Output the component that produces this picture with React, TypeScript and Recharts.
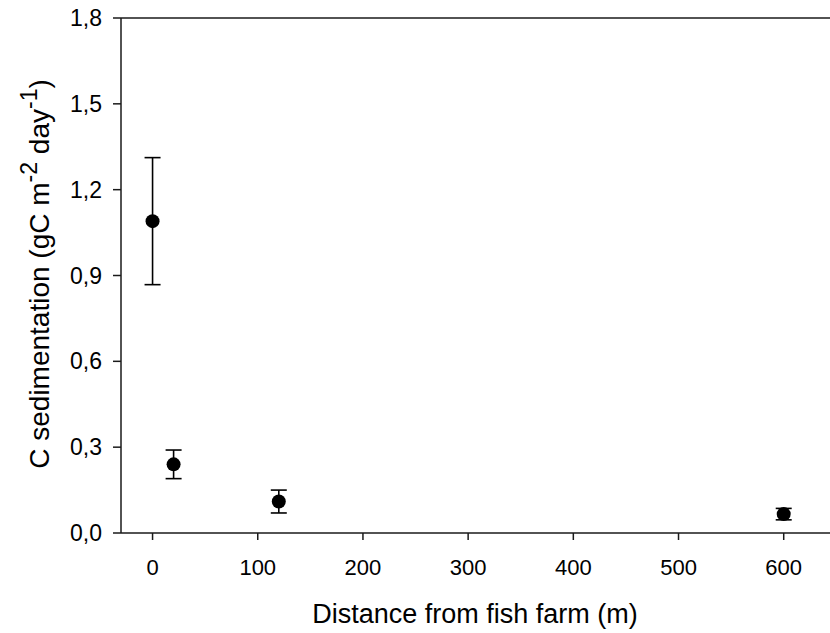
import React from "react"
import {
  ScatterChart,
  Scatter,
  XAxis,
  YAxis,
  ErrorBar,
  ReferenceLine,
  Label,
} from "recharts"

// distance from the farm (m) and C sedimentation (gC m-2 day-1), mean ± error
const distances = [0, 20, 120, 600]
const sedimentation = [1.09, 0.24, 0.11, 0.066]
const sedError = [0.222, 0.05, 0.04, 0.02]

const xTicks = [0, 100, 200, 300, 400, 500, 600]
const yTicks = [0, 0.3, 0.6, 0.9, 1.2, 1.5, 1.8]

const FONT = "'Liberation Sans', Arial, sans-serif"
const AXIS = "#1a1a1a"

const data = distances.map((d, i) => ({
  distance: d,
  value: sedimentation[i],
  err: sedError[i],
}))

const Dot = (props: any) => (
  <circle cx={props.cx} cy={props.cy} r={7} fill="#000" />
)

// rotated y title with superscripts; centred on the plot height
const YTitle = () => (
  <text
    transform="translate(49, 274) rotate(-90)"
    textAnchor="middle"
    fontFamily={FONT}
    fontSize={28}
    fill="#000"
  >
    <tspan>C sedimentation (gC m</tspan>
    <tspan fontSize={23} dy={-12}>-2</tspan>
    <tspan dy={12}> day</tspan>
    <tspan fontSize={23} dy={-12}>-1</tspan>
    <tspan dy={12}>)</tspan>
  </text>
)

const XTitle = () => (
  <text
    x={475}
    y={623}
    textAnchor="middle"
    fontFamily={FONT}
    fontSize={27}
    fill="#000"
  >
    Distance from fish farm (m)
  </text>
)

export default function App() {
  return (
    <div style={{ position: "absolute", left: 0, top: 0, width: 830, height: 633, background: "#fff" }}>
      <ScatterChart
        width={830}
        height={633}
        margin={{ top: 18, right: 0, bottom: 0, left: 0 }}
      >
        <XAxis
          type="number"
          dataKey="distance"
          domain={[-30, 644]}
          ticks={xTicks}
          allowDataOverflow
          height={100}
          tickSize={7}
          tickMargin={19}
          axisLine={{ stroke: AXIS, strokeWidth: 1.5 }}
          tickLine={{ stroke: AXIS, strokeWidth: 1.5 }}
          tick={{ fontSize: 22, fill: "#000", fontFamily: FONT }}
        >
          <Label content={<XTitle />} />
        </XAxis>
        <YAxis
          type="number"
          dataKey="value"
          domain={[0, 1.8]}
          ticks={yTicks}
          allowDataOverflow
          width={121}
          tickSize={8}
          tickMargin={11}
          tickFormatter={(v: number) => v.toFixed(1).replace(".", ",")}
          axisLine={{ stroke: AXIS, strokeWidth: 1.5 }}
          tickLine={{ stroke: AXIS, strokeWidth: 1.5 }}
          tick={{ fontSize: 23, fill: "#000", fontFamily: FONT }}
        >
          <Label content={<YTitle />} />
        </YAxis>
        <ReferenceLine y={1.8} stroke={AXIS} strokeWidth={1.5} />
        <Scatter data={data} shape={<Dot />} isAnimationActive={false}>
          <ErrorBar
            dataKey="err"
            direction="y"
            width={8}
            stroke="#000"
            strokeWidth={1.6}
            isAnimationActive={false}
          />
        </Scatter>
      </ScatterChart>
    </div>
  )
}
